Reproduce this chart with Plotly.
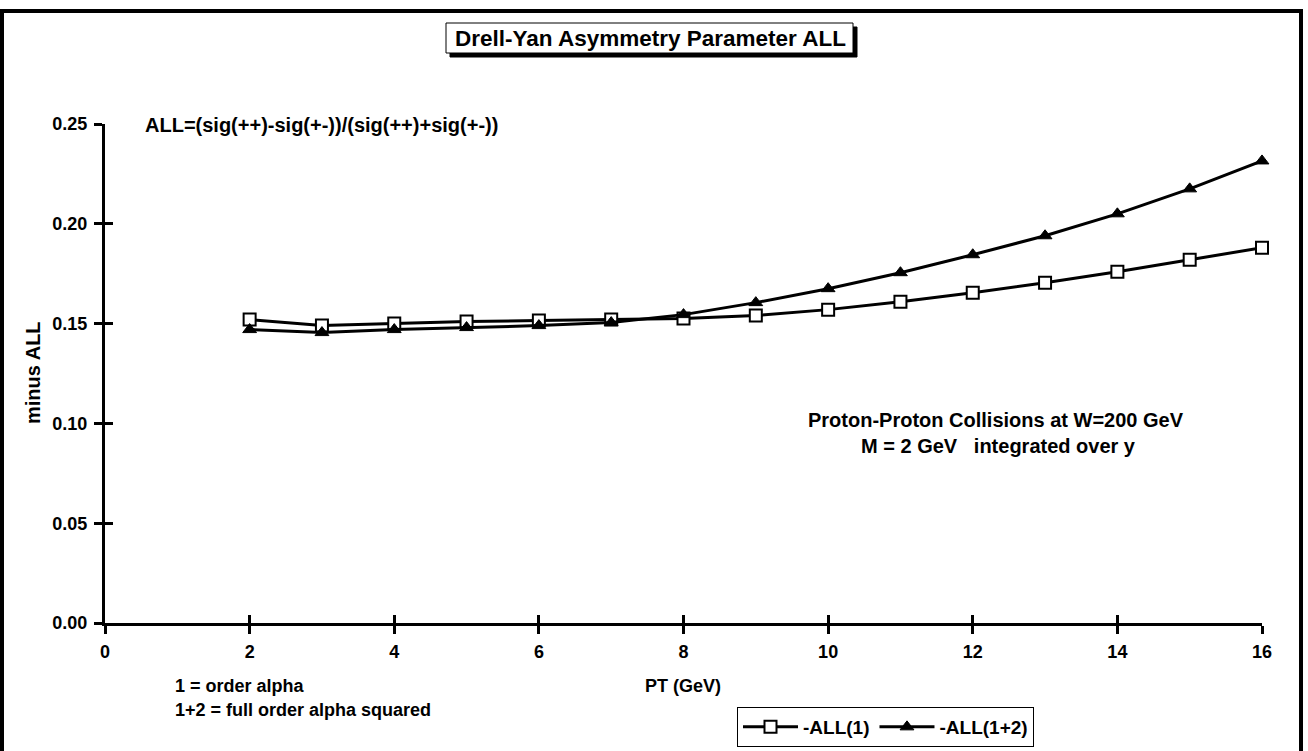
import plotly.graph_objects as go

pt = [2, 3, 4, 5, 6, 7, 8, 9, 10, 11, 12, 13, 14, 15, 16]
all_1 = [0.152, 0.149, 0.150, 0.151, 0.1515, 0.152, 0.1525, 0.154, 0.157, 0.161,
         0.1655, 0.1705, 0.176, 0.182, 0.188]
all_12 = [0.147, 0.1455, 0.147, 0.148, 0.149, 0.1505, 0.1545, 0.1605, 0.1675, 0.1755,
          0.1845, 0.194, 0.205, 0.2175, 0.2315]
x_ticks = [0, 2, 4, 6, 8, 10, 12, 14, 16]
y_ticks = [0.00, 0.05, 0.10, 0.15, 0.20, 0.25]
y_tick_text = ["0.00", "0.05", "0.10", "0.15", "0.20", "0.25"]

W, H = 1308, 751
L, R, T, B = 105, 1262, 124, 623
FONT = "Liberation Sans, Arial, sans-serif"


def px(x):
    return (x - L) / (R - L)


def py(y):
    return (B - y) / (B - T)


fig = go.Figure()
fig.add_trace(go.Scatter(
    x=pt, y=all_1, name="-ALL(1)", mode="lines+markers",
    line=dict(color="black", width=3),
    marker=dict(symbol="square", size=12, color="white", line=dict(color="black", width=2)),
    cliponaxis=False,
))
fig.add_trace(go.Scatter(
    x=pt, y=all_12, name="-ALL(1+2)", mode="lines+markers",
    line=dict(color="black", width=3),
    marker=dict(symbol="triangle-up", size=12, color="black", line=dict(color="black", width=1)),
    cliponaxis=False,
))

axis_common = dict(showgrid=False, zeroline=False, ticklen=8, tickwidth=3, tickcolor="black",
                   automargin=False)
tickfont = dict(family=FONT, size=18, color="black", weight="bold")
fig.update_layout(
    width=W, height=H,
    margin=dict(l=L, r=W - R, t=T, b=H - B, autoexpand=False),
    paper_bgcolor="white", plot_bgcolor="white",
    font=dict(family=FONT, color="black", size=17),
    showlegend=True,
    xaxis=dict(range=[0, 16], tickvals=x_ticks, ticks="outside", showline=True,
               linecolor="black", linewidth=3, tickfont=tickfont, ticklabelstandoff=2,
               **axis_common),
    yaxis=dict(range=[0, 0.25], tickvals=y_ticks, ticktext=y_tick_text, ticks="outside",
               showline=True, linecolor="black", linewidth=3, tickfont=tickfont,
               ticklabelstandoff=3, **axis_common),
    xaxis2=dict(range=[0, 16], tickvals=x_ticks, ticks="inside", overlaying="x",
                showticklabels=False, showline=False, side="bottom", **axis_common),
    yaxis2=dict(range=[0, 0.25], tickvals=y_ticks, ticks="inside", overlaying="y",
                showticklabels=False, showline=False, side="left", **axis_common),
    legend=dict(orientation="h", xref="container", yref="container",
                x=737 / W, y=1 - 707 / H, xanchor="left", yanchor="top",
                bordercolor="black", borderwidth=1, bgcolor="white",
                font=dict(family=FONT, size=19, color="black", weight="bold"),
                itemwidth=55, tracegroupgap=0),
)
# dummy trace to activate the overlay axes for crossing ticks
fig.add_trace(go.Scatter(x=[None], y=[None], xaxis="x2", yaxis="y2", showlegend=False,
                         hoverinfo="skip"))

# outer frame
fig.add_shape(type="rect", xref="paper", yref="paper",
              x0=px(2), x1=px(1301), y0=py(765), y1=py(11),
              line=dict(color="black", width=4), fillcolor="rgba(0,0,0,0)", layer="below")
# title box with drop shadow
fig.add_shape(type="rect", xref="paper", yref="paper",
              x0=px(450), x1=px(857), y0=py(57), y1=py(27),
              line=dict(color="black", width=1), fillcolor="black", layer="above")
fig.add_shape(type="rect", xref="paper", yref="paper",
              x0=px(446), x1=px(853), y0=py(53), y1=py(23),
              line=dict(color="black", width=1), fillcolor="white", layer="above")

bold = dict(family=FONT, color="black", weight="bold")


def note(x, y, text, size=18, xanchor="center", **kw):
    fig.add_annotation(x=px(x), y=py(y), xref="paper", yref="paper", text=text,
                       showarrow=False, xanchor=xanchor, yanchor="middle",
                       font=dict(size=size, **bold), **kw)


note(650, 39, "Drell-Yan Asymmetry Parameter ALL", size=22.5)
note(143, 125, "ALL=(sig(++)-sig(+-))/(sig(++)+sig(+-))", size=20, xanchor="left")
note(33, 373, "minus ALL", size=20, textangle=-90)
note(996, 420, "Proton-Proton Collisions at W=200 GeV", size=20)
note(998, 446, "M = 2 GeV   integrated over y", size=20)
note(173, 686, "1 = order alpha", size=18, xanchor="left")
note(173, 710, "1+2 = full order alpha squared", size=18, xanchor="left")
note(683, 686, "PT (GeV)", size=18)

fig.write_html("out.html")
